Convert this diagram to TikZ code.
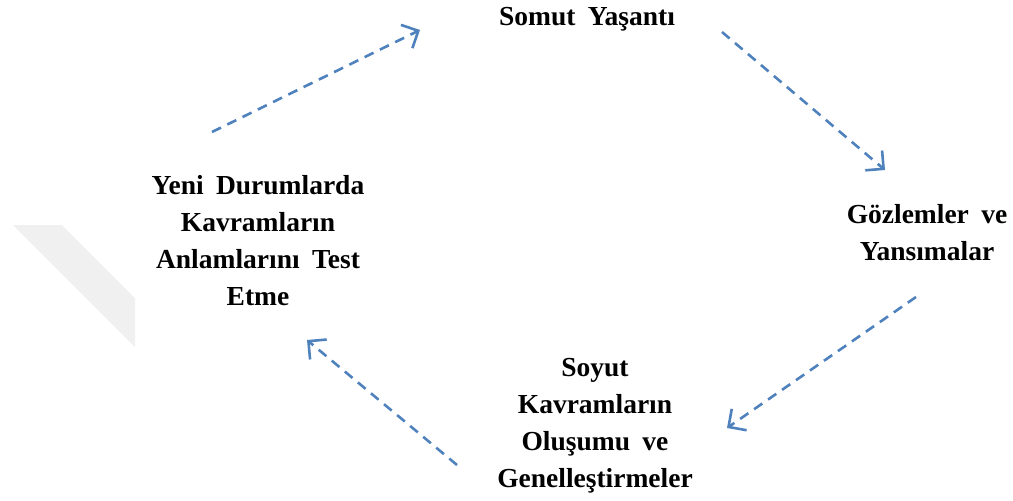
\documentclass[tikz,border=0pt]{standalone}
\usepackage{fontspec}
\setmainfont[WordSpace=1.8]{Liberation Serif}
\usetikzlibrary{arrows.meta}
\definecolor{cycleblue}{RGB}{79,129,189}
\definecolor{shadegray}{RGB}{240,240,240}
\begin{document}
\begin{tikzpicture}[
            x=1pt, y=-1pt,
            stage/.style={
                draw=none,
                align=center,
                font=\fontsize{27.5}{37}\selectfont\bfseries,
                inner sep=0pt
            },
            flow/.style={
                draw=cycleblue,
                line width=2.6pt,
                dash pattern=on 10pt off 7pt,
                -{Straight Barb[length=13pt,width=26pt]}
            }
        ]
        
        % Page frame
        \useasboundingbox (0,0) rectangle (1013,501);
        
        % Faint shape on the left
        \fill[shadegray] (13,225) -- (62,225) -- (135,298) -- (135,347) -- cycle;
        
        % Stages of the cycle
        \node[stage] (somut) at (587,19) {Somut Yaşantı};
        \node[stage] (gozlem) at (927,233) {Gözlemler ve\\Yansımalar};
        \node[stage] (soyut) at (595,426) {Soyut\\Kavramların\\Oluşumu ve\\Genelleştirmeler};
        \node[stage] (yeni) at (258,241) {Yeni Durumlarda\\Kavramların\\Anlamlarını Test\\Etme};
        
        % Arrow ends
        \coordinate (a1s) at (212,132);
        \coordinate (a1e) at (420,30);
        \coordinate (a2s) at (722,32);
        \coordinate (a2e) at (885,170);
        \coordinate (a3s) at (916,297);
        \coordinate (a3e) at (727,428);
        \coordinate (a4s) at (457,465);
        \coordinate (a4e) at (307,340);
        
        % Connecting arrows
        \draw[flow] (a1s) -- (a1e);
        \draw[flow] (a2s) -- (a2e);
        \draw[flow] (a3s) -- (a3e);
        \draw[flow] (a4s) -- (a4e);
        
        \end{tikzpicture}
\end{document}
